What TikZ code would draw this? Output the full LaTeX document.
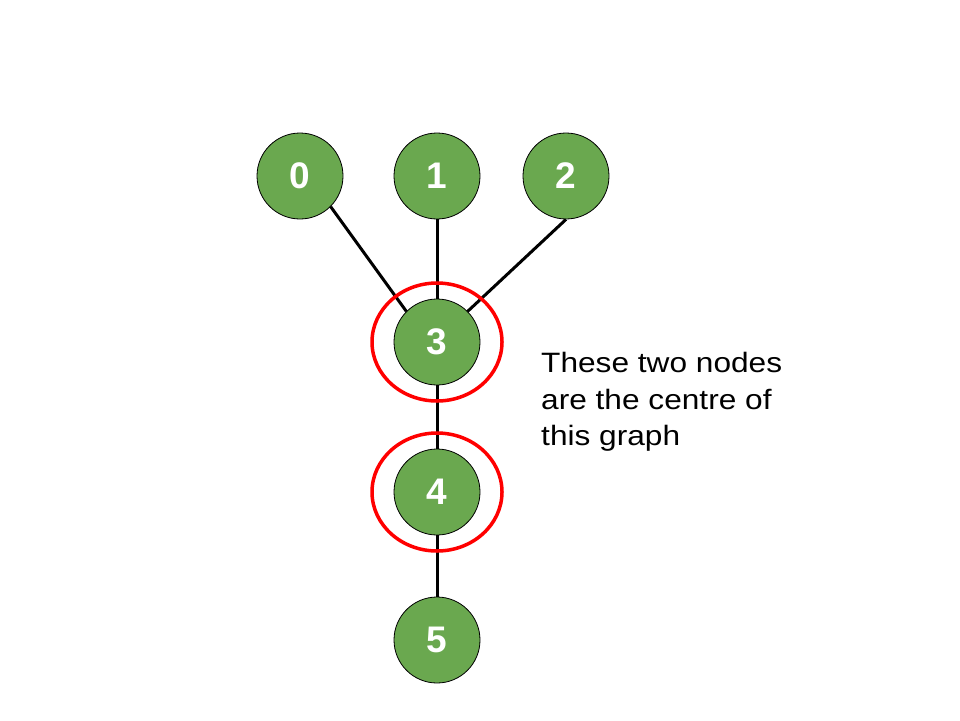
\documentclass[tikz,border=0pt]{standalone}
\usepackage{fontspec}
\setmainfont{Liberation Sans}
\newfontfamily\notefont[FakeStretch=1.13]{Liberation Sans}
\usepackage{tikz}
\definecolor{leafgreen}{HTML}{6AA84F}

\begin{document}
\begin{tikzpicture}[x=1pt,y=-1pt,
    vert/.style={circle,draw=black,line width=0.8pt,fill=leafgreen,minimum size=86pt,inner sep=0pt,
      text=white,font=\fontsize{37}{37}\selectfont\bfseries},
    edge/.style={line width=3pt},
    ring/.style={draw=red,line width=3.5pt}]
              \useasboundingbox (0,0) rectangle (960,720);

              \node[vert] (n0) at (300,176) {0};
              \node[vert] (n1) at (437,176) {1};
              \node[vert] (n2) at (566,176) {2};
              \node[vert] (n3) at (437,342) {3};
              \node[vert] (n4) at (437,492) {4};
              \node[vert] (n5) at (437,640) {5};

              \draw[edge] (n0.south east) -- (n3.north west);
              \draw[edge] (n1) -- (n3);
              \draw[edge] (n2.south) -- (n3.north east);
              \draw[edge] (n3) -- (n4);
              \draw[edge] (n4) -- (n5);

              \draw[ring] (n3.center) ellipse [x radius=65, y radius=59];
              \draw[ring] (n4.center) ellipse [x radius=65, y radius=59];

              \node[anchor=west,align=left,inner sep=0pt,font=\notefont\fontsize{28}{36.5}\selectfont] (note) at (541,402)
                {These two nodes\\are the centre of\\this graph};

            \end{tikzpicture}
\end{document}
